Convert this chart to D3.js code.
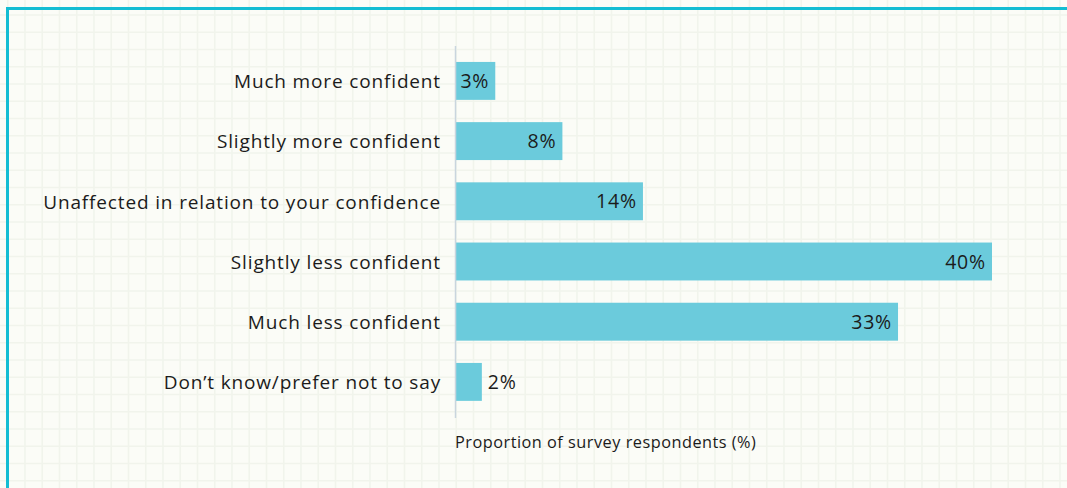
<!DOCTYPE html>
<html>
<head>
<meta charset="utf-8">
<script src="https://cdn.jsdelivr.net/npm/d3@7"></script>
<style>
  html, body { margin: 0; padding: 0; background: #fbfcf7; }
  svg { display: block; }
  text { font-family: "Open Sans", "Noto Sans", sans-serif; fill: #1b1b1b; }
</style>
</head>
<body>
<svg id="chart" width="1067" height="488"></svg>
<script>
// Survey responses: effect on confidence
const categories = [
  "Much more confident",
  "Slightly more confident",
  "Unaffected in relation to your confidence",
  "Slightly less confident",
  "Much less confident",
  "Don\u2019t know/prefer not to say"
];
const values = [3, 8, 14, 40, 33, 2];
const axisTitle = "Proportion of survey respondents (%)";

const W = 1067, H = 488;
const svg = d3.select("#chart");

// squared-paper background
const grid = svg.append("g").attr("class", "paper");
const cell = 17.25;
for (let x = 7.75; x < W; x += cell) {
  grid.append("line").attr("x1", x).attr("x2", x).attr("y1", 0).attr("y2", H)
    .attr("stroke", "#f1f4ec").attr("stroke-width", 1.6);
}
for (let y = -2.25; y < H; y += cell) {
  grid.append("line").attr("x1", 0).attr("x2", W).attr("y1", y).attr("y2", y)
    .attr("stroke", "#f1f4ec").attr("stroke-width", 1.6);
}

// card frame (open to the right and bottom)
svg.append("path")
  .attr("d", `M7.5,${H + 5} V8.5 H${W + 5}`)
  .attr("fill", "none").attr("stroke", "#13bdd3").attr("stroke-width", 3);

const x0 = 455;
const x = d3.scaleLinear().domain([0, 40]).range([x0, 992]);
const y = d3.scaleBand().domain(categories)
  .range([50.8, 50.8 + 6 * 60.2])
  .paddingInner(0.37).paddingOuter(0.185);

// bars
svg.append("g").selectAll("rect").data(values).join("rect")
  .attr("x", x(0))
  .attr("y", (d, i) => y(categories[i]))
  .attr("width", d => x(d) - x(0))
  .attr("height", y.bandwidth())
  .attr("fill", "#6bcbdc");

// vertical baseline
svg.append("line")
  .attr("x1", x0 + 0.5).attr("x2", x0 + 0.5)
  .attr("y1", 46).attr("y2", 418)
  .attr("stroke", "#c9d5de").attr("stroke-width", 1.5);

// category labels
const yAxis = d3.axisLeft(y).tickSize(0).tickPadding(14);
const ga = svg.append("g").attr("transform", `translate(${x0},0)`).call(yAxis);
ga.select(".domain").remove();
ga.selectAll("text")
  .attr("font-size", 19).attr("fill", "#1b1b1b")
  .attr("letter-spacing", 0.85)
  .attr("dy", "0.38em")
  .style("font-family", "'Open Sans', 'Noto Sans', sans-serif");

// value labels
svg.append("g").selectAll("text").data(values).join("text")
  .attr("x", d => (x(d) - x(0) > 35) ? x(d) - 6 : x(d) + 6)
  .attr("y", (d, i) => y(categories[i]) + y.bandwidth() / 2)
  .attr("dy", "0.36em")
  .attr("text-anchor", d => (x(d) - x(0) > 35) ? "end" : "start")
  .attr("font-size", 19.5)
  .attr("letter-spacing", 0.8)
  .text(d => d + "%");

// axis title
svg.append("text")
  .attr("x", x0).attr("y", 448)
  .attr("font-size", 16.3)
  .attr("letter-spacing", 0.5)
  .text(axisTitle);
</script>
</body>
</html>
